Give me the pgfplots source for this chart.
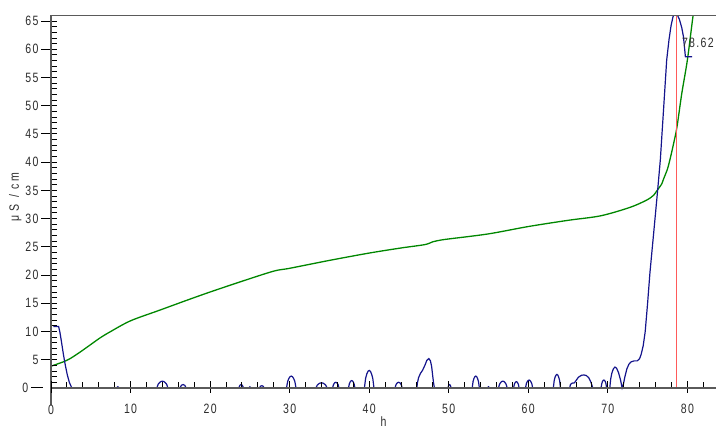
\documentclass[border=0pt]{standalone}
\usepackage{fontspec}
\setmainfont{Liberation Sans}[FakeStretch=0.78, LetterSpace=10]
\usepackage{pgfplots}
\pgfplotsset{compat=1.18}
\definecolor{bl}{RGB}{20,20,140}
\definecolor{gr}{RGB}{0,135,0}
\definecolor{rd}{RGB}{255,90,90}
\definecolor{ax}{RGB}{90,90,90}
\definecolor{tx}{RGB}{45,45,45}
\begin{document}
\begin{tikzpicture}
\begin{axis}[
  scale only axis, width=664.6bp, height=389.2bp,
  xmin=0, xmax=83.6, ymin=-3, ymax=66,
  axis x line=middle, axis y line=left,
  axis line style={-, ax, line width=1.3bp},
  axis on top,
  xtick={10,20,...,80}, minor xtick={0,2,...,82},
  ytick={5,10,...,65}, minor ytick={0,1,...,65},
  extra x ticks={0}, extra y ticks={0},
  extra tick style={grid=none},
  extra x tick style={black, line width=1bp},
  extra y tick style={xshift=-10bp, black, line width=1bp},
  tick align=inside,
  major tick length=12bp, minor tick length=6bp,
  major x tick style={yshift=-5bp, black, line width=1bp},
  major y tick style={xshift=-10bp, black, line width=1bp},
  minor tick style={black, line width=1bp},
  tick label style={font=\fontsize{13.5bp}{15bp}\selectfont, text=tx},
  /pgf/number format/assume math mode=true,
  xticklabel style={yshift=-13bp},
  yticklabel style={xshift=-9bp},
  extra x tick labels={0}, extra y tick labels={0},
]
\addplot[gr, line width=1.3bp, smooth, tension=0.5] coordinates {
(0.1,3.9) (0.7,4.2) (1.5,4.6) (2.4,5.2) (3.6,6.3) (4.9,7.6) (6.2,8.9) (7.5,10.0)
(10,11.9) (13.7,13.8) (17,15.5) (20,17.0) (24,18.9) (28,20.7) (30,21.2) (35,22.6)
(40,23.9) (44,24.8) (47,25.4) (48,25.9) (49,26.2) (50,26.4) (55,27.3) (60,28.6)
(65,29.7) (69.1,30.5) (72.8,32.0) (74.9,33.3) (75.8,34.2) (76.2,35.0) (76.8,36.2)
(77.0,37.0) (77.5,38.8) (77.9,41.0) (78.3,43.5) (78.7,46.3) (79.3,52.2) (80.0,58.1)
(80.7,65.8) (81.0,68.5)
};
\addplot[bl, line width=1.2bp] coordinates {
(0.3,10.9) (0.95,10.9) (1.1,10.0) (1.3,8.3) (1.55,6.0) (1.8,4.0) (2.05,2.3) (2.3,1.0) (2.55,0.2) (2.65,0)
(8.2,0) (8.4,0.2) (8.6,0)
(13.3,0) (13.47,0.66) (13.65,0.96) (13.82,1.14) (14.0,1.2) (14.18,1.14) (14.35,0.96) (14.53,0.66) (14.7,0)
(16.2,0) (16.4,0.48) (16.6,0.6) (16.8,0.48) (17.0,0)
(23.6,0) (23.75,0.48) (23.9,0.6) (24.05,0.48) (24.2,0)
(24.85,0) (25.0,0.2) (25.15,0)
(26.2,0) (26.35,0.32) (26.5,0.4) (26.65,0.32) (26.8,0)
(29.6,0) (29.75,1.16) (29.9,1.68) (30.05,2.0) (30.2,2.1) (30.35,2.0) (30.5,1.68) (30.65,1.16) (30.8,0)
(33.3,0) (33.47,0.5) (33.65,0.72) (33.82,0.86) (34.0,0.9) (34.18,0.86) (34.35,0.72) (34.53,0.5) (34.7,0)
(35.4,0) (35.5,0.55) (35.6,0.8) (35.7,0.95) (35.8,1.0) (35.9,0.95) (36.0,0.8) (36.1,0.55) (36.2,0)
(37.4,0) (37.5,0.72) (37.6,1.04) (37.7,1.24) (37.8,1.3) (37.9,1.24) (38.0,1.04) (38.1,0.72) (38.2,0)
(39.4,0) (39.55,1.7) (39.7,2.48) (39.85,2.95) (40.0,3.1) (40.15,2.95) (40.3,2.48) (40.45,1.7) (40.6,0)
(43.25,0) (43.36,0.55) (43.47,0.8) (43.59,0.95) (43.7,1.0) (43.81,0.95) (43.92,0.8) (44.04,0.55) (44.15,0)
(46.0,0) (46.05,0.8) (46.2,1.8) (46.45,2.6) (46.7,3.1) (47.0,4.0) (47.25,4.9) (47.5,5.2) (47.7,4.8) (47.85,3.8) (47.98,2.2) (48.1,0.8) (48.2,0)
(49.9,0) (50.0,0.48) (50.1,0.6) (50.2,0.48) (50.3,0)
(52.95,0) (53.06,1.16) (53.17,1.68) (53.29,2.0) (53.4,2.1) (53.51,2.0) (53.62,1.68) (53.74,1.16) (53.85,0)
(54.85,0) (55.0,0.2) (55.15,0)
(56.25,0) (56.39,0.66) (56.52,0.96) (56.66,1.14) (56.8,1.2) (56.94,1.14) (57.07,0.96) (57.21,0.66) (57.35,0)
(58.15,0) (58.24,0.6) (58.32,0.88) (58.41,1.05) (58.5,1.1) (58.59,1.05) (58.68,0.88) (58.76,0.6) (58.85,0)
(59.65,0) (59.76,0.77) (59.87,1.12) (59.99,1.33) (60.1,1.4) (60.21,1.33) (60.32,1.12) (60.44,0.77) (60.55,0)
(63.15,0) (63.26,1.32) (63.37,1.92) (63.49,2.28) (63.6,2.4) (63.71,2.28) (63.82,1.92) (63.94,1.32) (64.05,0)
(65.2,0) (65.3,0.6) (65.5,0.85) (65.8,0.9) (66.0,1.3) (66.3,1.9) (66.7,2.25) (67.0,2.3) (67.3,2.2) (67.6,1.8) (67.85,1.1) (68.0,0.5) (68.1,0)
(69.15,0) (69.24,0.77) (69.32,1.12) (69.41,1.33) (69.5,1.4) (69.59,1.33) (69.68,1.12) (69.76,0.77) (69.85,0)
(70.25,0) (70.35,1.5) (70.5,2.6) (70.7,3.4) (70.9,3.7) (71.1,3.5) (71.35,2.7) (71.6,1.4) (71.8,0)
(71.95,0.6) (72.15,2.0) (72.4,3.4) (72.65,4.2) (72.9,4.6) (73.3,4.8) (73.7,4.8) (74.0,5.2) (74.2,6.0)
(74.45,7.5) (74.7,10) (75.0,15) (75.3,20.5) (75.6,25) (75.9,29.5) (76.3,35.6) (76.6,40.4) (77.0,49.2)
(77.4,58.1) (77.7,61.8) (77.95,64.2) (78.2,65.8) (78.45,66.4) (78.7,66.2) (79.0,65.3) (79.3,63.8)
(79.5,62.3) (79.65,60.2) (79.75,58.7) (80.6,58.7)
};
\addplot[rd, line width=1.5bp] coordinates {(78.62,0) (78.62,66)};
\draw[ax, line width=1.5bp] (rel axis cs:0,1) -- (rel axis cs:1,1);
\coordinate (bbl) at (axis cs:-6.415,-7.5);
\coordinate (btr) at (axis cs:83.6,68.74);
\coordinate (hpos) at (axis cs:41.8,-5.1);
\coordinate (ypos) at (axis cs:-4.5,33.8);
\coordinate (vpos) at (axis cs:79.3,61.06);
\end{axis}
\pgfresetboundingbox
\useasboundingbox (bbl) rectangle (btr);
\node[anchor=north, inner sep=0, text=tx, font=\fontsize{13.5bp}{15bp}\selectfont] at (hpos) {h};
\node[rotate=90, inner sep=0, text=tx, font=\fontsize{13.5bp}{15bp}\selectfont] at (ypos) {μ\hspace{4bp}S\hspace{7bp}/\hspace{5bp}c\hspace{3bp}m};
\node[anchor=west, inner sep=0, text=tx, font=\fontsize{13.5bp}{15bp}\selectfont] at (vpos) {78.62};
\end{tikzpicture}
\end{document}
